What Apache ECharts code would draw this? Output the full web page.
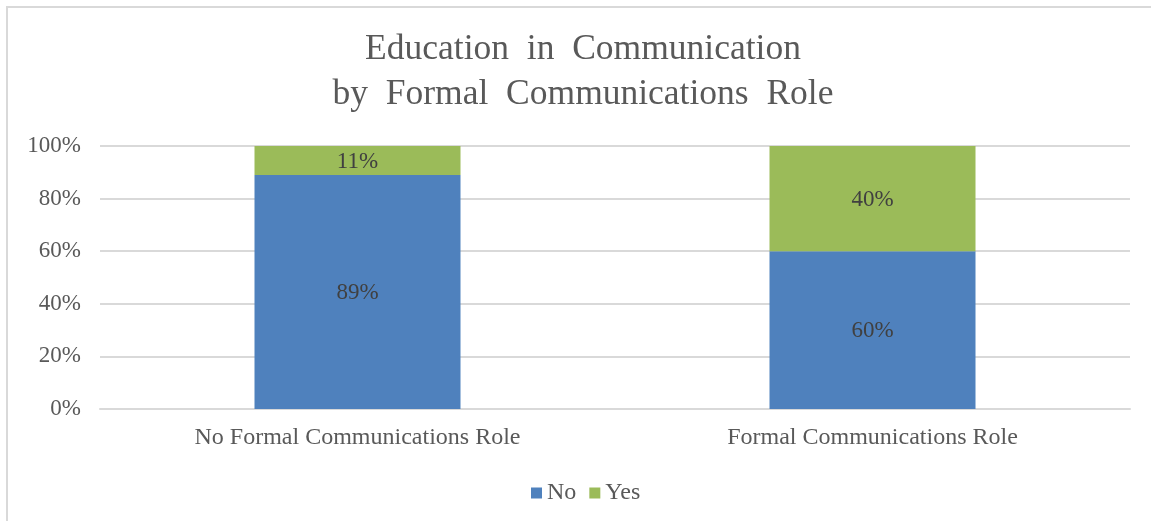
<!DOCTYPE html>
<html>
<head>
<meta charset="utf-8">
<script src="https://cdn.jsdelivr.net/npm/echarts@6/dist/echarts.min.js"></script>
<style>
  html, body { margin: 0; padding: 0; background: #fff; }
  #chart { width: 1151px; height: 521px; }
</style>
</head>
<body>
<div id="chart"></div>
<script>
// Share of respondents with education in communication, by role type
const categories = ['No Formal Communications Role', 'Formal Communications Role'];
const seriesNames = ['No', 'Yes'];
const noValues = [89, 60];
const yesValues = [11, 40];
const yTicks = [0, 20, 40, 60, 80, 100];

const serif = '"Liberation Serif", "Times New Roman", serif';
const textColor = '#595959';
const gridColor = '#d9d9d9';

const chart = echarts.init(document.getElementById('chart'), null, { renderer: 'canvas' });

const barLabel = {
  show: true,
  position: 'inside',
  offset: [0, 1],
  formatter: p => p.value + '%',
  fontFamily: serif,
  fontSize: 23,
  color: '#404040'
};

chart.setOption({
  animation: false,
  backgroundColor: '#fff',
  graphic: [{
    type: 'rect',
    shape: { x: 7, y: 7, width: 1300, height: 700 },
    style: { fill: 'none', stroke: gridColor, lineWidth: 2 },
    silent: true
  }],
  title: {
    text: 'Education  in  Communication\nby  Formal  Communications  Role',
    left: 578,
    textAlign: 'center',
    top: 22,
    textStyle: {
      fontFamily: serif,
      fontSize: 35.5,
      lineHeight: 45,
      fontWeight: 'normal',
      color: textColor
    }
  },
  legend: {
    data: seriesNames,
    top: 476,
    left: 526,
    itemWidth: 11,
    itemHeight: 11,
    itemGap: 13,
    icon: 'rect',
    textStyle: { fontFamily: serif, fontSize: 24, color: textColor }
  },
  grid: { left: 100, right: 21, top: 146, bottom: 112, containLabel: false },
  xAxis: {
    type: 'category',
    data: categories,
    axisLine: { lineStyle: { color: gridColor, width: 2 } },
    axisTick: { show: false },
    axisLabel: { fontFamily: serif, fontSize: 24, color: textColor, margin: 17 }
  },
  yAxis: {
    type: 'value',
    min: yTicks[0],
    max: yTicks[yTicks.length - 1],
    interval: yTicks[1] - yTicks[0],
    axisLine: { show: false },
    axisTick: { show: false },
    axisLabel: { formatter: '{value}%', fontFamily: serif, fontSize: 23, color: textColor, margin: 19 },
    splitLine: { lineStyle: { color: gridColor, width: 2 } }
  },
  series: [
    {
      name: seriesNames[0],
      type: 'bar',
      stack: 'total',
      barWidth: '40%',
      data: noValues,
      itemStyle: { color: '#4f81bd' },
      label: barLabel
    },
    {
      name: seriesNames[1],
      type: 'bar',
      stack: 'total',
      barWidth: '40%',
      data: yesValues,
      itemStyle: { color: '#9bbb59' },
      label: barLabel
    }
  ]
});
</script>
</body>
</html>
